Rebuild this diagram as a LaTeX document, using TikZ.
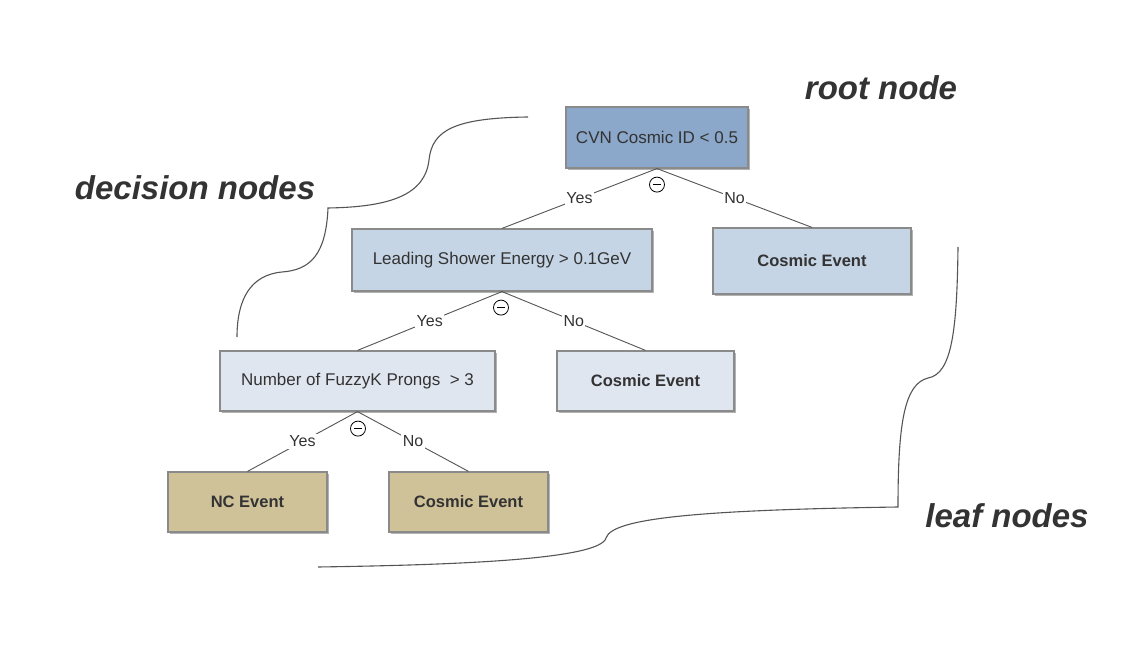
\documentclass[tikz,border=0pt]{standalone}
\usepackage{fontspec}
\setmainfont{Liberation Sans}
\usetikzlibrary{shadows,calc}
\definecolor{txt}{HTML}{333333}
\definecolor{rootfill}{RGB}{139,167,201}
\definecolor{midfill}{RGB}{198,213,229}
\definecolor{lowfill}{RGB}{224,230,240}
\definecolor{leaffill}{RGB}{207,194,153}
\definecolor{edgegray}{HTML}{8A8A8A}
\definecolor{linegray}{HTML}{555555}
\tikzset{
  box/.style={draw=edgegray, line width=1.2pt, text=txt, font=\fontsize{17}{20}\selectfont,
    inner sep=0pt, drop shadow={shadow xshift=1.6pt, shadow yshift=-1.6pt, opacity=0.3, fill=black}},
  leafbox/.style={box, font=\fontsize{16.5}{20}\selectfont\bfseries},
  conn/.style={draw=linegray, line width=0.9pt},
  lbl/.style={fill=white, text=txt, inner sep=1.5pt, font=\fontsize{16}{19}\selectfont},
  minus/.style={circle, draw=black, line width=0.8pt, minimum size=15pt, inner sep=0pt},
  title/.style={text=txt, font=\fontsize{33}{38}\selectfont\bfseries\itshape},
  brace/.style={draw=linegray, line width=1.1pt}
}
\begin{document}
\begin{tikzpicture}[x=1pt,y=-1pt]
\path[use as bounding box, fill=white] (0,0) rectangle (1125,652);
% nodes
\node[box, fill=rootfill, minimum width=182pt, minimum height=61pt] (root) at (657,137.5) {CVN Cosmic ID < 0.5};
\node[box, fill=midfill, minimum width=300pt, minimum height=62pt] (lead) at (502,260) {Leading Shower Energy > 0.1GeV};
\node[leafbox, fill=midfill, minimum width=198pt, minimum height=66pt] (cos1) at (812,261) {Cosmic Event};
\node[box, fill=lowfill, minimum width=275pt, minimum height=60pt] (fuzzy) at (357.5,381) {Number of FuzzyK Prongs\ \ > 3};
\node[leafbox, fill=lowfill, minimum width=177pt, minimum height=60pt] (cos2) at (645.5,381) {Cosmic Event};
\node[leafbox, fill=leaffill, minimum width=159pt, minimum height=60pt] (nc) at (247.5,502) {NC Event};
\node[leafbox, fill=leaffill, minimum width=159pt, minimum height=60pt] (cos3) at (468.5,502) {Cosmic Event};
% connectors
\draw[conn] (root.south) -- node[lbl]{Yes} (lead.north);
\draw[conn] (root.south) -- node[lbl]{No} (cos1.north);
\draw[conn] (lead.south) -- node[lbl]{Yes} (fuzzy.north);
\draw[conn] (lead.south) -- node[lbl]{No} (cos2.north);
\draw[conn] (fuzzy.south) -- node[lbl]{Yes} (nc.north);
\draw[conn] (fuzzy.south) -- node[lbl]{No} (cos3.north);
% minus markers
\node[minus] (m1) at ($(root.south)+(0,16)$) {};
\draw[line width=0.9pt] ($(m1.center)+(-4,0)$) -- ($(m1.center)+(4,0)$);
\node[minus] (m2) at ($(lead.south)+(-1,16)$) {};
\draw[line width=0.9pt] ($(m2.center)+(-4,0)$) -- ($(m2.center)+(4,0)$);
\node[minus] (m3) at ($(fuzzy.south)+(0.5,17)$) {};
\draw[line width=0.9pt] ($(m3.center)+(-4,0)$) -- ($(m3.center)+(4,0)$);
% titles
\node[title] (troot) at (881,88) {root node};
\node[title] (tdec) at (195,188) {decision nodes};
\node[title] (tleaf) at (1007,516) {leaf nodes};
% braces
\draw[brace] (528,117) .. controls (455,118) and (432,130) .. (429,160)
  .. controls (425,195) and (390,207) .. (328,208)
  .. controls (326,255) and (310,270) .. (282,272)
  .. controls (250,275) and (237,300) .. (237,337);
\draw[brace] (958,247) .. controls (957,330) and (952,374) .. (928,378)
  .. controls (905,384) and (898,420) .. (898,507)
  .. controls (700,510) and (612,518) .. (606,538)
  .. controls (600,560) and (450,565) .. (318,567);
\end{tikzpicture}
\end{document}
